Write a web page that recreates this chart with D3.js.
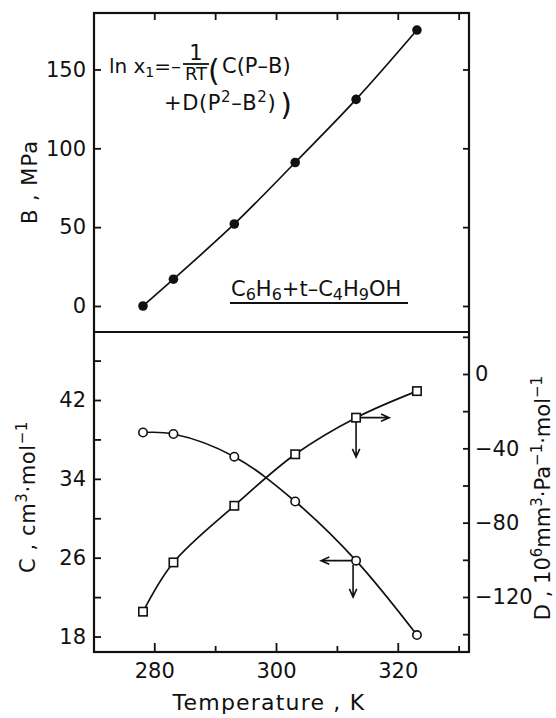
<!DOCTYPE html>
<html>
<head>
<meta charset="utf-8">
<script src="https://cdn.jsdelivr.net/npm/d3@7"></script>
<style>
  html, body { margin: 0; padding: 0; background: #fff; }
  svg { display: block; font-family: "DejaVu Sans", sans-serif; }
</style>
</head>
<body>
<svg id="chart" width="556" height="718"></svg>
<script>
"use strict";

// ── data ─────────────────────────────────────────────────────────────────
const temps = [278.15, 283.15, 293.15, 303.15, 313.15, 323.15];
const bValues = [0, 17, 52, 91, 131, 175];          // MPa
const cValues = [38.7, 38.55, 36.25, 31.7, 25.7, 18.15];   // cm3/mol
const dValues = [-127.9, -101.4, -70.9, -43.2, -23.5, -9.2]; // 10^6 mm3/(Pa mol)

const xMajor = [280, 300, 320];
const xMinor = [290, 310, 330];
const bTicks = [0, 50, 100, 150];
const cMajor = [18, 26, 34, 42];
const cMinor = [22, 30, 38, 46];
const dMajor = [0, -40, -80, -120];
const dMinor = [20, -20, -60, -100, -140];

// arrows that tie each curve to its axis
const dArrowRightTo = 318.6, dArrowDownTo = -44.7;
const cArrowLeftTo = 307.4, cArrowDownTo = 22.0;

// ── layout ───────────────────────────────────────────────────────────────
const L = 94, R = 469, TOP = 13, MID = 332, BOT = 652;
const svg = d3.select("#chart");

const x = d3.scaleLinear([270.1, 331.7], [L, R]);
const yB = d3.scaleLinear([-16.5, 185.8], [MID, TOP]);
const yC = d3.scaleLinear([16.43, 48.9], [BOT, MID]);
const yD = d3.scaleLinear([-149.6, 22.6], [BOT, MID]);

const black = "#111";
const FS = 21;

// frames
svg.append("rect").attr("x", L).attr("y", TOP).attr("width", R - L).attr("height", BOT - TOP)
  .attr("fill", "none").attr("stroke", black).attr("stroke-width", 2.2);
svg.append("line").attr("x1", L).attr("x2", R).attr("y1", MID).attr("y2", MID)
  .attr("stroke", black).attr("stroke-width", 2.2);

// ── ticks (inward) ───────────────────────────────────────────────────────
function addAxis(axis, tx, ty, labels) {
  const g = svg.append("g").attr("transform", `translate(${tx},${ty})`).call(axis);
  g.select(".domain").remove();
  g.selectAll(".tick line").attr("stroke", black).attr("stroke-width", 1.8);
  g.selectAll(".tick text").attr("fill", black).style("font-size", FS + "px")
    .style("font-family", "DejaVu Sans, sans-serif");
  if (!labels) g.selectAll(".tick text").remove();
  return g;
}

// bottom x axis, ticks pointing up
addAxis(d3.axisBottom(x).tickValues(xMajor).tickSize(-9).tickPadding(11).tickFormat(d3.format("d")), 0, BOT, true);
addAxis(d3.axisBottom(x).tickValues(xMinor).tickSize(-6), 0, BOT, false);
// top x axis, ticks pointing down
addAxis(d3.axisTop(x).tickValues(xMajor.concat(xMinor)).tickSize(-7), 0, TOP, false);

// B axis (left) + mirrored ticks on right
addAxis(d3.axisLeft(yB).tickValues(bTicks).tickSize(-7).tickPadding(8), L, 0, true);
addAxis(d3.axisRight(yB).tickValues(bTicks).tickSize(-6), R, 0, false);

// C axis (left)
addAxis(d3.axisLeft(yC).tickValues(cMajor).tickSize(-7).tickPadding(8), L, 0, true);
addAxis(d3.axisLeft(yC).tickValues(cMinor).tickSize(-7), L, 0, false);

// D axis (right)
addAxis(d3.axisRight(yD).tickValues(dMajor).tickSize(-6).tickPadding(6)
  .tickFormat(d => d === 0 ? "0" : "\u2212" + Math.abs(d)), R, 0, true);
addAxis(d3.axisRight(yD).tickValues(dMinor).tickSize(-6), R, 0, false);

// ── rich text helper ─────────────────────────────────────────────────────
function rich(parent, xPos, yPos, parts, opts = {}) {
  const size = opts.size || FS;
  const t = parent.append("text").attr("x", xPos).attr("y", yPos)
    .attr("fill", black).style("font-size", size + "px");
  if (opts.anchor) t.attr("text-anchor", opts.anchor);
  if (opts.transform) t.attr("transform", opts.transform);
  if (opts.spacing) t.style("letter-spacing", opts.spacing + "px");
  let shift = 0;
  parts.forEach(p => {
    const [txt, kind] = Array.isArray(p) ? p : [p, null];
    const target = kind === "sup" ? -Math.round(size * 0.4) : kind === "sub" ? Math.round(size * 0.18) : 0;
    const s = t.append("tspan").text(txt).attr("dy", target - shift);
    if (kind) s.style("font-size", Math.round(size * (opts.subScale || 0.7)) + "px");
    shift = target;
  });
  return t;
}

// axis titles
rich(svg, 0, 0, ["B , MPa"], { anchor: "middle", spacing: 1, transform: "translate(37,182) rotate(-90)" });
rich(svg, 0, 0, ["C ,  cm", ["3", "sup"], "\u00b7mol", ["\u22121", "sup"]],
  { anchor: "middle", spacing: 0.6, transform: "translate(35,497) rotate(-90)" });
rich(svg, 0, 0, ["D , 10", ["6", "sup"], "mm", ["3", "sup"], "\u00b7Pa", ["\u22121", "sup"], "\u00b7mol", ["\u22121", "sup"]],
  { anchor: "middle", transform: "translate(550,498) rotate(-90)" });
rich(svg, 269, 710, ["Temperature , K"], { anchor: "middle", spacing: 1.2, size: 22 });

// ── equation ─────────────────────────────────────────────────────────────
rich(svg, 181, 73, ["ln x", ["1", "sub"], "=\u2013"], { anchor: "end", size: 20 });
svg.append("text").attr("x", 196).attr("y", 60).attr("text-anchor", "middle")
  .style("font-size", "21px").attr("fill", black).text("1");
svg.append("line").attr("x1", 183).attr("x2", 209).attr("y1", 64).attr("y2", 64)
  .attr("stroke", black).attr("stroke-width", 1.8);
svg.append("text").attr("x", 196).attr("y", 80).attr("text-anchor", "middle")
  .style("font-size", "18px").attr("fill", black).text("RT");
svg.append("text").attr("x", 208).attr("y", 81).style("font-size", "30px")
  .attr("fill", black).text("(");
rich(svg, 222, 73, ["C(P\u2013B)"], { size: 21 });
const line2 = rich(svg, 164, 110, [["+", null], "D(P", ["2", "sup"], "\u2013B", ["2", "sup"], ")"],
  { size: 21, spacing: 0.6 });
const l2w = line2.node().getComputedTextLength();
svg.append("text").attr("x", 164 + l2w + 4).attr("y", 115).style("font-size", "30px")
  .attr("fill", black).text(")");

// compound label
rich(svg, 231, 296, ["C", ["6", "sub"], "H", ["6", "sub"], "+t\u2013C", ["4", "sub"], "H", ["9", "sub"], "OH"],
  { size: 21, subScale: 0.75 });
svg.append("line").attr("x1", 230).attr("x2", 408).attr("y1", 303).attr("y2", 303)
  .attr("stroke", black).attr("stroke-width", 2.2);

// ── curves ───────────────────────────────────────────────────────────────
const curve = d3.curveCatmullRom.alpha(0.5);
function series(vals, yScale) {
  return temps.map((t, i) => [x(t), yScale(vals[i])]);
}
const ptsB = series(bValues, yB), ptsC = series(cValues, yC), ptsD = series(dValues, yD);
[ptsB, ptsC, ptsD].forEach(p => {
  svg.append("path").attr("d", d3.line().curve(curve)(p))
    .attr("fill", "none").attr("stroke", black).attr("stroke-width", 1.7);
});

svg.append("g").selectAll("circle").data(ptsB).join("circle")
  .attr("cx", d => d[0]).attr("cy", d => d[1]).attr("r", 4.8).attr("fill", black);
svg.append("g").selectAll("circle").data(ptsC).join("circle")
  .attr("cx", d => d[0]).attr("cy", d => d[1]).attr("r", 4.2)
  .attr("fill", "#fff").attr("stroke", black).attr("stroke-width", 1.6);
svg.append("g").selectAll("rect").data(ptsD).join("rect")
  .attr("x", d => d[0] - 4.2).attr("y", d => d[1] - 4.2).attr("width", 8.4).attr("height", 8.4)
  .attr("fill", "#fff").attr("stroke", black).attr("stroke-width", 1.6);

// ── arrows ───────────────────────────────────────────────────────────────
function arrow(x1, y1, x2, y2) {
  const a = Math.atan2(y2 - y1, x2 - x1), h = 9, s = 0.42;
  const p = d3.path();
  p.moveTo(x1, y1); p.lineTo(x2, y2);
  p.moveTo(x2 - h * Math.cos(a - s), y2 - h * Math.sin(a - s));
  p.lineTo(x2, y2);
  p.lineTo(x2 - h * Math.cos(a + s), y2 - h * Math.sin(a + s));
  svg.append("path").attr("d", p.toString()).attr("fill", "none")
    .attr("stroke", black).attr("stroke-width", 1.6);
}
const iA = 4;
arrow(ptsD[iA][0] + 4, ptsD[iA][1], x(dArrowRightTo), ptsD[iA][1]);
arrow(ptsD[iA][0], ptsD[iA][1] + 4, ptsD[iA][0], yD(dArrowDownTo));
arrow(ptsC[iA][0] - 4, ptsC[iA][1], x(cArrowLeftTo), ptsC[iA][1]);
arrow(ptsC[iA][0] - 3, ptsC[iA][1] + 4, ptsC[iA][0] - 3, yC(cArrowDownTo));
</script>
</body>
</html>
